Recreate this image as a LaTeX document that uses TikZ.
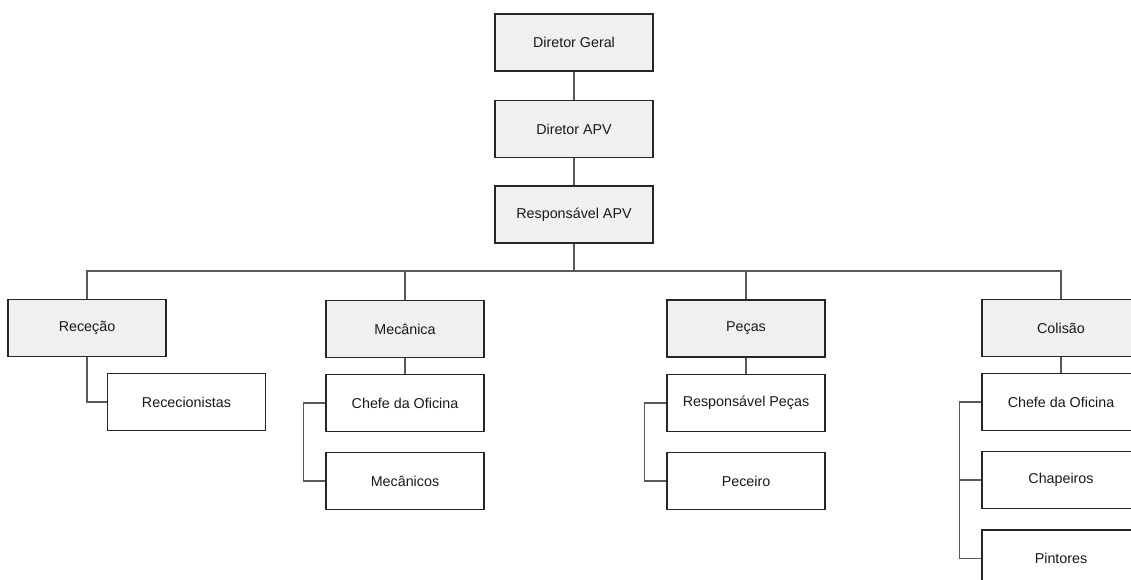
\documentclass[tikz,border=0pt]{standalone}
\usepackage{fontspec}
\setmainfont{Liberation Sans}
\begin{document}
\begin{tikzpicture}[x=1pt,y=-1pt,
  unit/.style={draw=black!85,line width=1.3pt,fill=#1,minimum width=158pt,minimum height=57pt,
    inner sep=0pt,font=\fontsize{14.3}{16}\selectfont,text=black!90},
  unit/.default=white,
  head/.style={unit=black!6},
  link/.style={draw=black!65,line width=1.5pt}]
\useasboundingbox (0,0) rectangle (1131,579);

% top of the hierarchy
\node[head] (dg)   at (574,42.5)  {Diretor Geral};
\node[head] (dapv) at (574,129)   {Diretor APV};
\node[head] (rapv) at (574,214.5) {Responsável APV};

% departments
\node[head] (rec) at (87,328)    {Receção};
\node[head] (mec) at (405,329)   {Mecânica};
\node[head] (pec) at (746,328.5) {Peças};
\node[head] (col) at (1061,328)  {Colisão};

% staff
\node[unit] (recep) at (186.5,402) {Rececionistas};
\node[unit] (mchef) at (405,403)   {Chefe da Oficina};
\node[unit] (mmec)  at (405,481)   {Mecânicos};
\node[unit] (rpec)  at (746,403)   {Responsável Peças};
\node[unit] (peceiro) at (746,481) {Peceiro};
\node[unit] (cchef) at (1061,402)  {Chefe da Oficina};
\node[unit] (chap)  at (1061,480)  {Chapeiros};
\node[unit] (pint)  at (1061,558.5){Pintores};

% vertical chain
\draw[link] (dg) -- (dapv);
\draw[link] (dapv) -- (rapv);

% distribution bus
\coordinate (bus) at (574,271);
\draw[link] (rapv) -- (bus);
\draw[link] (rec.north) |- (bus) -| (col.north);
\draw[link] (mec.north) -- (mec.north |- bus);
\draw[link] (pec.north) -- (pec.north |- bus);

% department branches
\draw[link] (rec.south) |- (recep.west);
\draw[link] (mec) -- (mchef);
\draw[link] (mchef.west) -- ++(-22,0) |- (mmec.west);
\draw[link] (pec) -- (rpec);
\draw[link] (rpec.west) -- ++(-22,0) |- (peceiro.west);
\draw[link] (col) -- (cchef);
\draw[link] (cchef.west) -- ++(-22,0) coordinate (cb) |- (pint.west);
\draw[link] (chap.west) -- (chap.west -| cb);
\end{tikzpicture}
\end{document}
